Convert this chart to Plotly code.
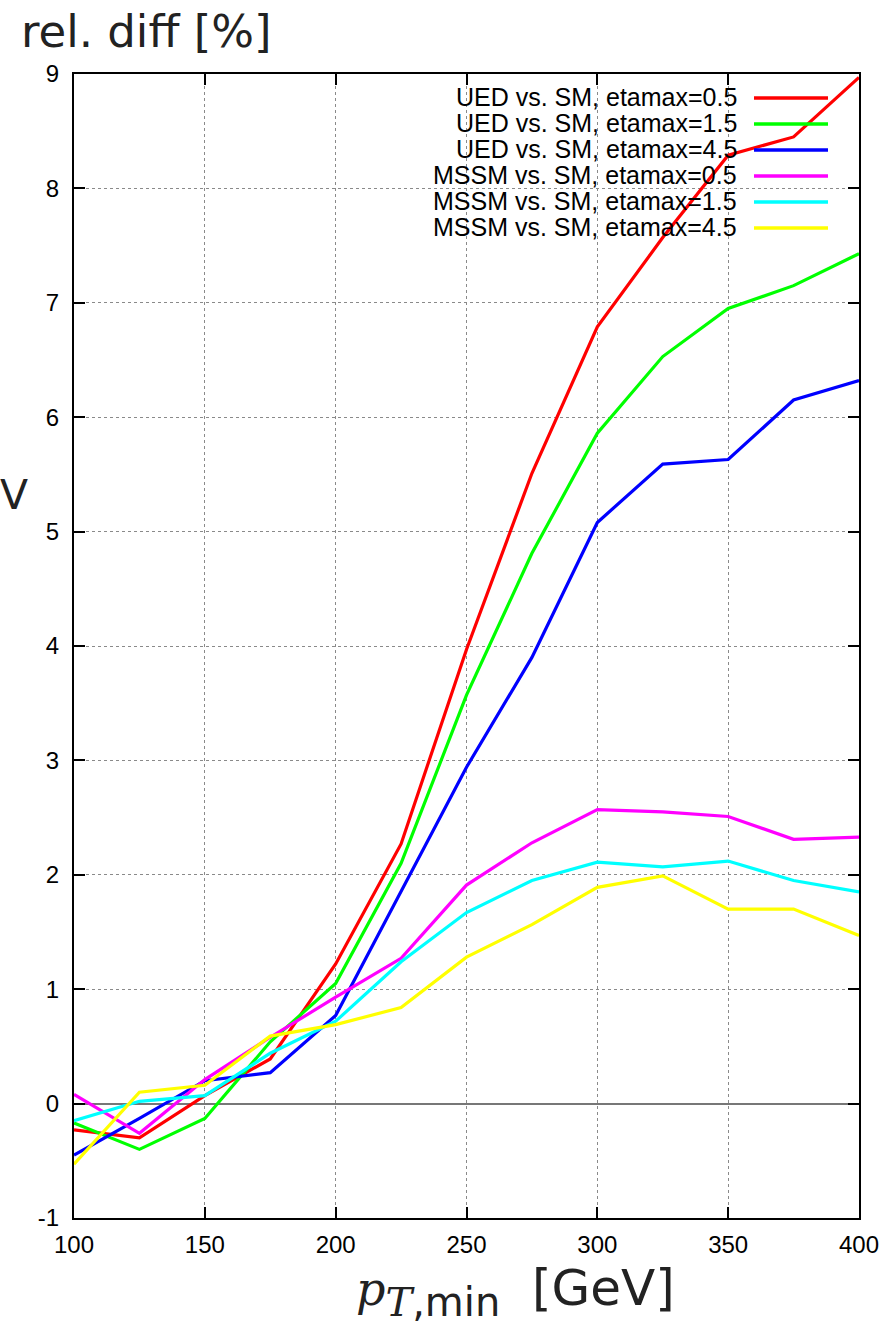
import plotly.graph_objects as go

pt_min = [100, 125, 150, 175, 200, 225, 250, 275, 300, 325, 350, 375, 400]

ued_eta05 = [-0.23, -0.30, 0.07, 0.39, 1.22, 2.27, 3.97, 5.51, 6.79, 7.57, 8.29, 8.45, 8.97]
ued_eta15 = [-0.17, -0.40, -0.13, 0.54, 1.05, 2.10, 3.57, 4.81, 5.86, 6.53, 6.95, 7.15, 7.43]
ued_eta45 = [-0.45, -0.13, 0.20, 0.27, 0.77, 1.85, 2.94, 3.90, 5.08, 5.59, 5.63, 6.15, 6.32]
mssm_eta05 = [0.08, -0.26, 0.21, 0.58, 0.93, 1.27, 1.91, 2.28, 2.57, 2.55, 2.51, 2.31, 2.33]
mssm_eta15 = [-0.15, 0.02, 0.07, 0.44, 0.72, 1.24, 1.67, 1.95, 2.11, 2.07, 2.12, 1.95, 1.85]
mssm_eta45 = [-0.53, 0.10, 0.16, 0.59, 0.69, 0.84, 1.28, 1.565, 1.89, 1.99, 1.70, 1.70, 1.47]

series_names = [
    "UED vs. SM, etamax=0.5",
    "UED vs. SM, etamax=1.5",
    "UED vs. SM, etamax=4.5",
    "MSSM vs. SM, etamax=0.5",
    "MSSM vs. SM, etamax=1.5",
    "MSSM vs. SM, etamax=4.5",
]
series_values = [ued_eta05, ued_eta15, ued_eta45, mssm_eta05, mssm_eta15, mssm_eta45]
series_colors = ["#ff0000", "#00ff00", "#0000ff", "#ff00ff", "#00ffff", "#ffff00"]

x_ticks = [100, 150, 200, 250, 300, 350, 400]
y_ticks = [-1, 0, 1, 2, 3, 4, 5, 6, 7, 8, 9]

W, H = 893, 1325
L, R, T, B = 74, 34, 74, 107
pw, ph = W - L - R, H - T - B


def px_x(p):
    return (p - L) / pw


def px_y(p):
    return (H - B - p) / ph


fig = go.Figure()
for name, vals, col in zip(series_names, series_values, series_colors):
    fig.add_trace(go.Scatter(x=pt_min, y=vals, mode="lines", name=name,
                             line=dict(color=col, width=3.2), showlegend=False))

shapes = []
annotations = []
# white key box hiding the grid behind the legend
shapes.append(dict(type="rect", xref="paper", yref="paper",
                   x0=px_x(380), x1=px_x(857), y0=px_y(240), y1=px_y(75),
                   fillcolor="white", line=dict(width=0), layer="between"))

row_y = [97, 123, 149, 175, 201, 227]
for name, col, ry in zip(series_names, series_colors, row_y):
    annotations.append(dict(xref="paper", yref="paper", x=px_x(739), y=px_y(ry),
                            xanchor="right", yanchor="middle", showarrow=False,
                            text=name,
                            font=dict(family="Liberation Sans", size=25, color="black")))
    shapes.append(dict(type="line", xref="paper", yref="paper",
                       x0=px_x(754), x1=px_x(828), y0=px_y(ry + 1), y1=px_y(ry + 1),
                       line=dict(color=col, width=3.5), layer="above"))

annotations.append(dict(xref="paper", yref="paper", x=px_x(19), y=px_y(31),
                        xanchor="left", yanchor="middle", showarrow=False,
                        text="rel. diff [%]",
                        font=dict(family="DejaVu Sans", size=45, color="#222222")))
annotations.append(dict(xref="paper", yref="paper", x=px_x(30), y=px_y(495),
                        xanchor="right", yanchor="middle", showarrow=False,
                        text="V",
                        font=dict(family="DejaVu Sans", size=41, color="#222222")))
annotations.append(dict(xref="paper", yref="paper", x=px_x(354), y=px_y(1292),
                        xanchor="left", yanchor="middle", showarrow=False,
                        text=('<span style="font-family:DejaVu Serif;font-style:italic;font-size:46px">p</span>'
                              '<sub><span style="font-family:DejaVu Serif;font-style:italic;font-size:40px">T</span>'
                              '<span style="font-size:40px">,min</span></sub>'
                              '  [GeV]'),
                        font=dict(family="DejaVu Sans", size=50, color="#222222")))

axis_common = dict(
    showline=True, linecolor="black", linewidth=2, mirror="ticks",
    ticks="inside", ticklen=11, tickwidth=2, tickcolor="black",
    showgrid=True, gridcolor="#8a8a8a", griddash="dot", gridwidth=1,
    tickfont=dict(family="Liberation Sans", size=24, color="black"),
)

fig.update_xaxes(range=[100, 400], tickvals=x_ticks, ticktext=[str(v) for v in x_ticks],
                 zeroline=False, ticklabelstandoff=4, **axis_common)
fig.update_yaxes(range=[-1, 9], tickvals=y_ticks, ticktext=[str(v) for v in y_ticks],
                 zeroline=True, zerolinecolor="#777777", zerolinewidth=1.5,
                 ticklabelstandoff=8, **axis_common)

fig.update_layout(
    width=W, height=H,
    margin=dict(l=L, r=R, t=T, b=B, pad=0),
    paper_bgcolor="white", plot_bgcolor="white",
    shapes=shapes, annotations=annotations,
    showlegend=False,
)

fig.write_html("out.html", config={"displayModeBar": False},
               post_script="document.body.style.margin='0px';")
